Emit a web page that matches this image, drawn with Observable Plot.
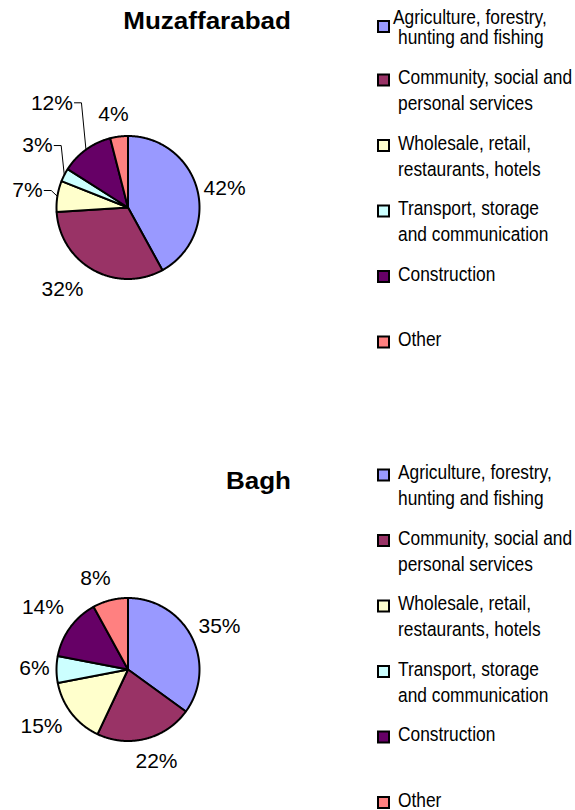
<!DOCTYPE html>
<html>
<head>
<meta charset="utf-8">
<script src="https://cdn.jsdelivr.net/npm/d3@7"></script>
<script src="https://cdn.jsdelivr.net/npm/@observablehq/plot@0.6"></script>
<style>
  body { margin: 0; background: #fff; }
  #chart { position: relative; width: 575px; height: 810px; overflow: hidden;
           font-family: "Liberation Sans", Arial, sans-serif; }
  #chart > svg { position: absolute; }
</style>
</head>
<body>
<div id="chart"></div>
<script>
// ---------- data ----------
const categories = [
  "Agriculture, forestry, hunting and fishing",
  "Community, social and personal services",
  "Wholesale, retail, restaurants, hotels",
  "Transport, storage and communication",
  "Construction",
  "Other"
];
const legendLines = [
  ["Agriculture, forestry,", "hunting and fishing"],
  ["Community, social and", "personal services"],
  ["Wholesale, retail,", "restaurants, hotels"],
  ["Transport, storage", "and communication"],
  ["Construction"],
  ["Other"]
];
const colors = ["#9999FF", "#993366", "#FFFFCC", "#CCFFFF", "#660066", "#FF8080"];
const muzaffarabadValues = [42, 32, 7, 3, 12, 4];
const baghValues = [35, 22, 15, 6, 14, 8];

// ---------- label layout (radius in pie radii, angle nudge in degrees) ----------
const muzLabelRadius = [1.376, 1.468, 1.425, 1.534, 1.81, 1.316];
const muzLabelNudge  = [3.3, 9.8, 0.6, 7.4, 0, -1.7];
const muzLeader      = [false, false, true, true, true, false];
const baghLabelRadius = [1.414, 1.347, 1.449, 1.308, 1.476, 1.358];
const baghLabelNudge  = [1.8, -2.8, 4.4, 0.6, 0.3, -5.2];
const baghLeader      = [false, false, false, false, false, false];

const R = 71.5;           // pie radius in px
const LABEL_FS = 21;
const FONT = '"Liberation Sans", Arial, sans-serif';

const charts = [
  { title: "Muzaffarabad", values: muzaffarabadValues, cx: 127.5, cy: 207,
    titleRight: 291, titleBaseline: 28.5, legendFirst: 11.5, compactFirst: true,
    labelRadius: muzLabelRadius, labelNudge: muzLabelNudge, leader: muzLeader },
  { title: "Bagh", values: baghValues, cx: 127.5, cy: 668.5,
    titleRight: 291, titleBaseline: 489, legendFirst: 472, compactFirst: false,
    labelRadius: baghLabelRadius, labelNudge: baghLabelNudge, leader: baghLeader }
];

const root = d3.select("#chart");

// ---------- titles and legends ----------
const overlay = root.append("svg")
  .attr("width", 575).attr("height", 810)
  .style("left", "0px").style("top", "0px")
  .style("font-family", FONT);

charts.forEach(c => {
  overlay.append("text")
    .attr("text-anchor", "end")
    .attr("font-weight", "bold")
    .attr("font-size", 24)
    .attr("transform", `translate(${c.titleRight},${c.titleBaseline}) scale(1.085,1)`)
    .text(c.title);

  legendLines.forEach((lines, i) => {
    let cap1 = c.legendFirst + i * 65.5;
    let gap = 26, markerC = cap1 + 3, x1 = 398;
    if (c.compactFirst && i === 0) { cap1 = 16.5; gap = 20.5; markerC = 26.5; x1 = 393; }
    overlay.append("rect")
      .attr("x", 378).attr("y", markerC - 5.5)
      .attr("width", 11).attr("height", 11)
      .attr("fill", colors[i]).attr("stroke", "#000").attr("stroke-width", 2);
    lines.forEach((ln, j) => {
      overlay.append("text")
        .attr("font-size", 19.5)
        .attr("fill", "#000")
        .attr("transform", `translate(${j === 0 ? x1 : 398},${cap1 + 7 + j * gap}) scale(0.89,1)`)
        .text(ln);
    });
  });
});

// ---------- pies ----------
function piePlot(c) {
  const W = 300, H = 250, oy = 130;
  const arcs = d3.pie().sort(null).value(d => d)(c.values);
  const pts = [];
  arcs.forEach((a, i) => {
    const n = Math.max(2, Math.ceil((a.endAngle - a.startAngle) / (Math.PI / 360)));
    pts.push({ k: categories[i], x: 0, y: 0 });
    for (let j = 0; j <= n; j++) {
      const t = a.startAngle + (a.endAngle - a.startAngle) * j / n;
      pts.push({ k: categories[i], x: Math.sin(t), y: Math.cos(t) });
    }
    pts.push({ k: categories[i], x: 0, y: 0 });
  });
  const labels = arcs.map((a, i) => {
    const m = (a.startAngle + a.endAngle) / 2 + c.labelNudge[i] * Math.PI / 180;
    const r = c.labelRadius[i];
    return { x: r * Math.sin(m), y: r * Math.cos(m), text: c.values[i] + "%", i };
  });
  const leaders = [];
  arcs.forEach((a, i) => {
    if (!c.leader[i]) return;
    const L = labels[i];
    const txt = L.text;
    const w = ((txt.length - 1) * 0.556 + 0.889) * LABEL_FS;
    const side = L.x < 0 ? 1 : -1;
    const sx = L.x + side * (w / 2 + 1.5) / R;
    const ex = sx + side * 7 / R;
    const m = (a.startAngle + a.endAngle) / 2;
    leaders.push({ k: i, x: sx, y: L.y });
    leaders.push({ k: i, x: ex, y: L.y });
    leaders.push({ k: i, x: Math.sin(m), y: Math.cos(m) });
  });

  const plot = Plot.plot({
    width: W, height: H, margin: 0,
    x: { domain: [-c.cx / R, (W - c.cx) / R], axis: null },
    y: { domain: [-(H - oy) / R, oy / R], axis: null },
    color: { domain: categories, range: colors },
    style: { fontFamily: FONT, background: "none", overflow: "visible" },
    marks: [
      Plot.line(leaders, { x: "x", y: "y", z: "k", stroke: "#000", strokeWidth: 1 }),
      Plot.line(pts, { x: "x", y: "y", z: "k", fill: "k", stroke: "#000", strokeWidth: 2, strokeLinejoin: "round" }),
      Plot.text(labels, { x: "x", y: "y", text: "text", fontSize: LABEL_FS, fill: "#000" })
    ]
  });
  d3.select(plot).style("left", "0px").style("top", (c.cy - oy) + "px");
  root.node().appendChild(plot);
}
charts.forEach(piePlot);
</script>
</body>
</html>
